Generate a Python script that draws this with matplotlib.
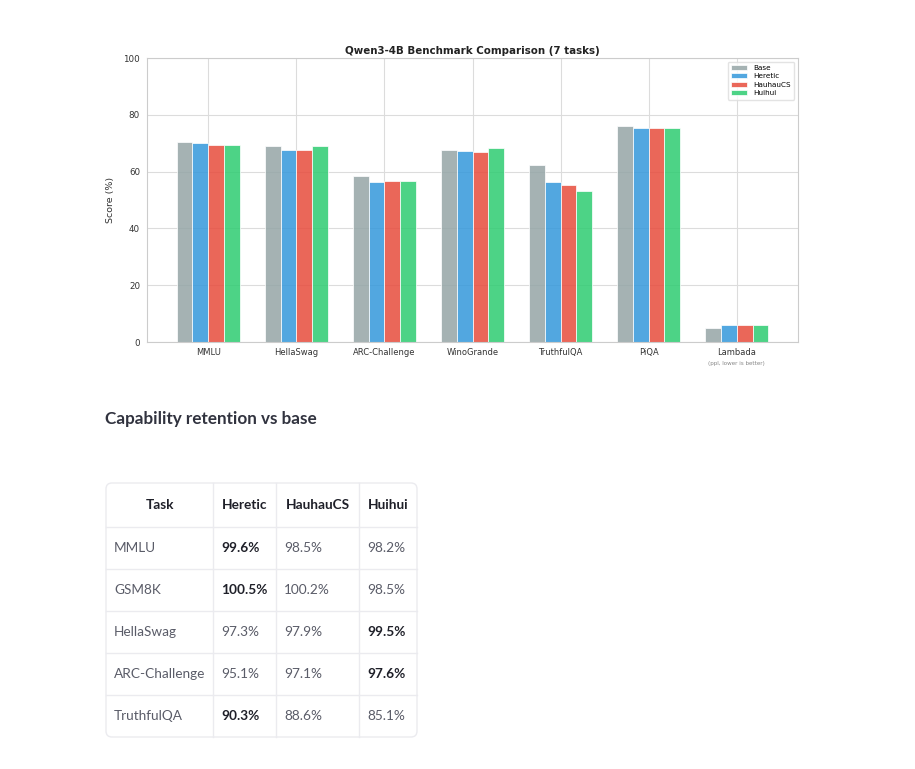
import matplotlib
matplotlib.use("Agg")
import matplotlib.pyplot as plt
from matplotlib.patches import FancyBboxPatch
import numpy as np

plt.rcParams['font.family'] = 'DejaVu Sans'

# chart data
tasks = ['MMLU', 'HellaSwag', 'ARC-Challenge', 'WinoGrande', 'TruthfulQA', 'PiQA', 'Lambada']
models = ['Base', 'Heretic', 'HauhauCS', 'Huihui']
base = [70.5, 68.9, 58.4, 67.6, 62.5, 75.9, 5.1]
heretic = [70.2, 67.6, 56.4, 67.4, 56.4, 75.2, 6.1]
hauhaucs = [69.4, 67.6, 56.6, 66.8, 55.3, 75.2, 6.1]
huihui = [69.2, 68.9, 56.7, 68.4, 53.2, 75.4, 5.9]
colors = ['#95a5a6', '#3498db', '#e74c3c', '#2ecc71']

# retention table
table_header = ['Task', 'Heretic', 'HauhauCS', 'Huihui']
table_tasks = ['MMLU', 'GSM8K', 'HellaSwag', 'ARC-Challenge', 'TruthfulQA']
ret_heretic = [99.6, 100.5, 97.3, 95.1, 90.3]
ret_hauhaucs = [98.5, 100.2, 97.9, 97.1, 88.6]
ret_huihui = [98.2, 98.5, 99.5, 97.6, 85.1]

W, H = 915, 769
fig = plt.figure(figsize=(W / 100, H / 100), dpi=100)

# --- bar chart ---
ax = fig.add_axes([147 / W, 1 - 342 / H, 651 / W, 284 / H])
ax.set_axisbelow(True)
ax.grid(True, color='#dcdcdc', linewidth=0.8)
for s in ax.spines.values():
    s.set_color('#cccccc')
    s.set_linewidth(0.8)

x = np.arange(len(tasks))
width = 0.18
series = [base, heretic, hauhaucs, huihui]
for i, (vals, name, c) in enumerate(zip(series, models, colors)):
    ax.bar(x + (i - 1.5) * width, vals, width, label=name, color=c,
           alpha=0.85, edgecolor='white', linewidth=0.6)

ax.set_ylim(0, 100)
ax.set_xticks(x)
ax.set_xticklabels(tasks, fontsize=6.0, color='#333333')
ax.tick_params(axis='y', labelsize=6.3, colors='#333333', length=0, pad=5)
ax.tick_params(axis='x', length=0, pad=4)
ax.set_ylabel('Score (%)', fontsize=6.8, color='#333333', labelpad=6)
ax.set_title('Qwen3-4B Benchmark Comparison (7 tasks)', fontsize=7.4,
             fontweight='bold', color='#222222', pad=3)
ax.legend(loc='upper right', fontsize=5.2, frameon=True, edgecolor='#dddddd',
          handlelength=2.2, borderpad=0.5, labelspacing=0.3)
ax.text(x[-1], -6.6, '(ppl, lower is better)', fontsize=4.1, color='#888888',
        ha='center', va='top', transform=ax.transData)

# --- heading and table, drawn in pixel coords ---
ov = fig.add_axes([0, 0, 1, 1])
ov.set_xlim(0, W)
ov.set_ylim(H, 0)
ov.axis('off')

font = 'Lato'
ov.text(105, 419, 'Capability retention vs base', fontsize=12.3, fontweight='bold',
        color='#31333f', va='center', ha='left', family=font)

col_x = [106, 213, 276, 359, 417]
row_y = [483, 527, 569, 611, 653, 695, 737]
line_c = '#ebebef'

ov.add_patch(FancyBboxPatch((col_x[0], row_y[0]), col_x[-1] - col_x[0],
                            row_y[-1] - row_y[0],
                            boxstyle='round,pad=0,rounding_size=6',
                            fc='white', ec=line_c, lw=1.0))
for cx in col_x[1:-1]:
    ov.plot([cx, cx], [row_y[0], row_y[-1]], color=line_c, lw=1.0)
for ry in row_y[1:-1]:
    ov.plot([col_x[0], col_x[-1]], [ry, ry], color=line_c, lw=1.0)

fs = 9.8
for j, h in enumerate(table_header):
    ov.text((col_x[j] + col_x[j + 1]) / 2, (row_y[0] + row_y[1]) / 2, h,
            fontsize=fs, fontweight='bold', color='#1f2029',
            ha='center', va='center', family=font)

cols = [ret_heretic, ret_hauhaucs, ret_huihui]
for r, t in enumerate(table_tasks):
    cy = (row_y[r + 1] + row_y[r + 2]) / 2
    ov.text(col_x[0] + 8, cy, t, fontsize=fs, color='#5a5c68',
            ha='left', va='center', family=font)
    row_vals = [c[r] for c in cols]
    best = max(row_vals)
    for j, v in enumerate(row_vals):
        bold = v == best
        ov.text(col_x[j + 1] + 8, cy, f'{v:.1f}%', fontsize=fs,
                fontweight='bold' if bold else 'normal',
                color='#1f2029' if bold else '#5a5c68',
                ha='left', va='center', family=font)

fig.savefig('out.png', dpi=100, facecolor='white')
